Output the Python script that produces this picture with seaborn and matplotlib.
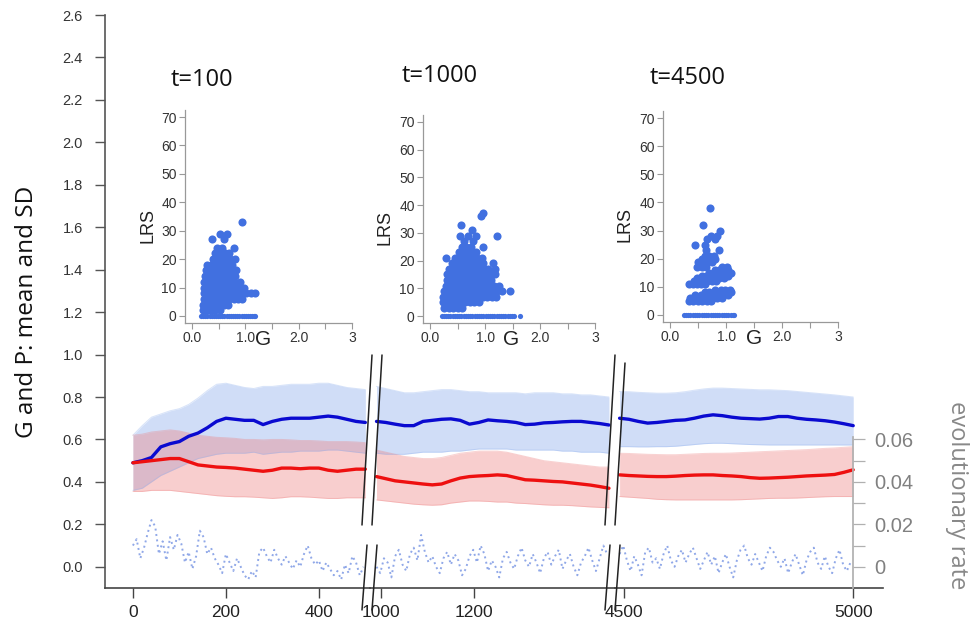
import numpy as np
import pandas as pd
import matplotlib
matplotlib.use("Agg")
import matplotlib.pyplot as plt
from matplotlib.lines import Line2D
import seaborn as sns

# ---------------- data ----------------
# time grids (generations) of the three shown windows
t_seg1 = np.arange(0, 501, 20)
t_seg2 = np.arange(990, 1491, 20)
t_seg3 = np.linspace(4490, 5000, 26)

# G (blue): mean and mean +/- SD band ; P (red): mean and band
g_mean_1 = [.49, .50, .515, .565, .58, .59, .615, .63, .655, .685, .70, .695, .69, .69, .67, .685, .695, .70, .70, .70, .705, .71, .705, .695, .685, .68]
g_hi_1 = [.62, .665, .705, .72, .735, .745, .765, .795, .83, .86, .865, .855, .845, .84, .85, .85, .855, .86, .86, .86, .865, .865, .855, .845, .84, .835]
g_lo_1 = [.36, .37, .40, .43, .45, .47, .49, .51, .52, .53, .535, .535, .535, .54, .53, .535, .54, .54, .545, .545, .545, .55, .55, .545, .54, .535]
p_mean_1 = [.49, .495, .50, .505, .51, .51, .495, .48, .475, .47, .468, .465, .46, .455, .45, .455, .465, .465, .462, .465, .465, .455, .45, .455, .46, .46]
p_hi_1 = [.62, .625, .635, .64, .645, .64, .63, .62, .615, .61, .608, .605, .60, .60, .598, .60, .60, .598, .595, .595, .593, .59, .59, .59, .588, .585]
p_lo_1 = [.355, .355, .36, .36, .36, .355, .35, .345, .34, .335, .332, .33, .33, .328, .325, .322, .325, .33, .33, .328, .325, .322, .322, .325, .325, .325]

g_mean_2 = [.685, .68, .672, .665, .665, .685, .69, .695, .697, .69, .672, .68, .692, .688, .685, .68, .67, .672, .678, .68, .683, .685, .685, .68, .675, .668]
g_hi_2 = [.85, .84, .83, .82, .82, .825, .83, .835, .835, .83, .825, .825, .82, .82, .82, .82, .815, .82, .82, .82, .815, .815, .81, .81, .805, .80]
g_lo_2 = [.535, .53, .53, .53, .535, .54, .54, .54, .545, .545, .55, .555, .555, .555, .555, .55, .55, .55, .55, .55, .545, .545, .54, .54, .54, .535]
p_mean_2 = [.425, .415, .405, .40, .395, .39, .386, .39, .405, .418, .425, .428, .43, .433, .43, .42, .41, .408, .405, .402, .40, .395, .39, .385, .378, .37]
p_hi_2 = [.55, .54, .53, .52, .515, .51, .51, .515, .525, .535, .54, .545, .545, .545, .54, .53, .52, .51, .50, .495, .49, .485, .48, .475, .47, .47]
p_lo_2 = [.315, .31, .305, .30, .295, .292, .29, .292, .30, .305, .31, .31, .308, .305, .305, .30, .298, .295, .292, .29, .29, .288, .285, .282, .28, .278]

g_mean_3 = [.70, .695, .685, .677, .68, .685, .69, .692, .70, .71, .716, .712, .705, .70, .698, .696, .70, .708, .708, .70, .695, .692, .688, .682, .674, .665]
g_hi_3 = [.826, .825, .822, .82, .818, .818, .82, .825, .832, .838, .842, .842, .84, .838, .836, .834, .834, .832, .83, .826, .822, .818, .814, .81, .805, .80]
g_lo_3 = [.566, .566, .565, .565, .566, .566, .568, .572, .576, .58, .582, .582, .58, .578, .576, .575, .574, .574, .574, .574, .574, .574, .574, .574, .574, .574]
p_mean_3 = [.433, .43, .428, .426, .425, .425, .427, .43, .432, .433, .433, .43, .428, .425, .42, .417, .418, .42, .422, .425, .428, .43, .432, .435, .445, .457]
p_hi_3 = [.535, .534, .532, .53, .529, .528, .528, .53, .532, .534, .535, .535, .536, .538, .54, .542, .544, .546, .548, .55, .552, .555, .558, .56, .563, .566]
p_lo_3 = [.331, .328, .325, .322, .318, .316, .315, .315, .315, .315, .315, .315, .315, .316, .318, .32, .322, .323, .323, .324, .326, .328, .33, .331, .331, .331]

# evolutionary rate (right axis)
t_rate_1 = np.arange(0, 497, 8)
rate_1 = [.010, .013, .004, .009, .016, .022, .019, .006, .012, .003,
          .014, .008, .015, .011, .002, .007, -.001, .005, .017, .014,
          .006, .009, .004, .001, -.003, .006, .002, -.002, .004, .000,
          -.004, -.006, -.002, -.005, .007, .009, .005, .002, .008, .004,
          .001, .005, .002, -.001, .003, .000, .006, .010, .004, .001,
          .003, -.002, .002, -.001, -.004, -.002, -.006, .001, -.003, .005,
          .002, -.004, .000]
t_rate_2 = np.arange(990, 1487, 8)
rate_2 = [.000, -.003, .004, .002, -.005, .005, .008, .001, -.002, .006,
          .009, .003, .015, .007, .002, .005, .000, -.003, .004, .007,
          .001, .006, .003, -.004, -.001, .005, .008, .002, .010, .006,
          -.002, .003, .000, -.005, .004, .007, .002, -.001, .005, .009,
          .003, .000, .006, .002, -.003, .004, .007, .001, .005, .008,
          -.001, .003, .006, .000, -.004, .002, .005, .009, .003, -.002,
          .004, .010, .006]
t_rate_3 = np.arange(4490, 5000, 8)
rate_3 = [.006, .010, .003, -.002, .005, .001, -.004, .007, .009, .002,
          .004, -.001, .006, .010, .003, .000, .005, .008, .002, .006,
          .009, .004, -.001, .003, .007, .001, .005, -.003, .002, .006,
          .000, -.005, .003, .008, .010, .004, .001, .006, .002, -.002,
          .005, .009, .007, .003, .000, .004, -.003, .002, .006, .001,
          -.004, .003, .007, .009, .002, -.001, .005, .000, -.003, .004,
          .008, .001, -.002, .002]

x_ticks_1 = [0, 200, 400]
x_ticks_2 = [1000, 1200]
x_ticks_3 = [4500, 5000]
y_ticks_main = [0.0, 0.2, 0.4, 0.6, 0.8, 1.0, 1.2, 1.4, 1.6, 1.8, 2.0, 2.2, 2.4, 2.6]
rate_ticks = [0, 0.02, 0.04, 0.06]
rate_tick_labels = ["0", "0.02", "0.04", "0.06"]

# inset scatter clouds: rows of (LRS, [G values])
cloud_t100 = [
    (0, [0.17, 0.21, 0.25, 0.29, 0.33, 0.37, 0.41, 0.45, 0.49, 0.53, 0.57, 0.61, 0.65, 0.69, 0.73, 0.77, 0.81, 0.85, 0.89, 0.93, 0.97, 1.01, 1.05, 1.09, 1.13, 1.17, 1.19]),
    (2, [0.20, 0.28, 0.36, 0.44, 0.52]),
    (4, [0.20, 0.28, 0.36, 0.44, 0.52, 0.60, 0.68]),
    (6, [0.22, 0.30, 0.38, 0.46, 0.54, 0.62, 0.70, 0.78, 0.86, 0.94]),
    (8, [0.22, 0.30, 0.38, 0.46, 0.54, 0.62, 0.70, 0.78, 0.86, 0.94, 1.02, 1.10, 1.18]),
    (10, [0.22, 0.30, 0.38, 0.46, 0.54, 0.62, 0.70, 0.78, 0.86, 0.98]),
    (12, [0.22, 0.30, 0.38, 0.46, 0.54, 0.62, 0.70, 0.78, 0.90]),
    (14, [0.24, 0.32, 0.40, 0.48, 0.56, 0.64, 0.72, 0.80]),
    (16, [0.26, 0.34, 0.42, 0.50, 0.58, 0.66, 0.74, 0.82]),
    (18, [0.28, 0.36, 0.44, 0.52, 0.60, 0.68, 0.76]),
    (20, [0.40, 0.48, 0.56, 0.64, 0.72, 0.80]),
    (22, [0.44, 0.52, 0.62, 0.70]),
    (24, [0.47, 0.57, 0.78]),
    (27, [0.38, 0.60]),
    (29, [0.52, 0.66]),
    (33, [0.94]),
]
cloud_t1000 = [
    (0, [0.21, 0.25, 0.29, 0.33, 0.37, 0.41, 0.45, 0.49, 0.53, 0.57, 0.61, 0.65, 0.69, 0.73, 0.77, 0.81, 0.85, 0.89, 0.93, 0.97, 1.01, 1.05, 1.09, 1.13, 1.17, 1.21, 1.25, 1.29, 1.33, 1.37, 1.41, 1.45, 1.49, 1.52, 1.64]),
    (3, [0.26, 0.34, 0.42, 0.50, 0.58]),
    (5, [0.24, 0.32, 0.40, 0.48, 0.56, 0.64, 0.72, 0.80, 0.88]),
    (7, [0.24, 0.32, 0.40, 0.48, 0.56, 0.64, 0.72, 0.80, 0.88, 0.96, 1.04, 1.12, 1.20]),
    (9, [0.26, 0.34, 0.42, 0.50, 0.58, 0.66, 0.74, 0.82, 0.90, 0.98, 1.06, 1.14, 1.22, 1.30, 1.45]),
    (11, [0.28, 0.36, 0.44, 0.52, 0.60, 0.68, 0.76, 0.84, 0.92, 1.00, 1.08, 1.16, 1.26]),
    (13, [0.30, 0.38, 0.46, 0.54, 0.62, 0.70, 0.78, 0.86, 0.94, 1.02, 1.10]),
    (15, [0.30, 0.38, 0.46, 0.54, 0.62, 0.70, 0.78, 0.86, 0.94, 1.02, 1.10, 1.18]),
    (17, [0.34, 0.42, 0.50, 0.58, 0.66, 0.74, 0.82, 0.90, 0.98, 1.06, 1.18]),
    (19, [0.40, 0.48, 0.56, 0.64, 0.72, 0.80, 0.88, 0.96, 1.14]),
    (21, [0.28, 0.46, 0.54, 0.62, 0.70, 0.78, 0.86, 0.94]),
    (23, [0.52, 0.60, 0.68, 0.76, 0.84]),
    (25, [0.58, 0.66, 0.74, 0.96]),
    (27, [0.62, 0.78]),
    (29, [0.55, 0.68, 0.84, 1.22]),
    (31, [0.76]),
    (33, [0.56]),
    (36, [0.93]),
    (37, [0.97]),
]
cloud_t4500 = [
    (0, [0.24, 0.28, 0.32, 0.36, 0.40, 0.44, 0.48, 0.52, 0.56, 0.60, 0.64, 0.68, 0.72, 0.76, 0.80, 0.84, 0.88, 0.92, 0.96, 1.00, 1.04, 1.08, 1.12, 1.14]),
    (5, [0.33, 0.41, 0.49, 0.57, 0.65, 0.73]),
    (6, [0.36, 0.44, 0.52, 0.60, 0.68, 0.76, 0.84, 0.92]),
    (7, [0.45, 0.55, 0.65, 0.75, 0.85, 0.95, 1.03]),
    (8, [0.62, 0.70, 0.78, 0.86, 0.94, 1.02, 1.08]),
    (9, [0.80, 0.90, 0.98, 1.06]),
    (11, [0.33, 0.41, 0.47, 0.55, 0.63]),
    (12, [0.42, 0.50, 0.58, 0.66, 0.74, 0.82]),
    (13, [0.48, 0.56, 0.64, 0.72, 0.80, 0.88, 0.96]),
    (14, [0.56, 0.64, 0.72, 0.80, 0.88, 0.96, 1.04]),
    (15, [0.70, 0.78, 0.86, 0.94, 1.02, 1.08]),
    (16, [0.80, 0.88, 0.96, 1.04]),
    (17, [0.48, 0.56, 0.64, 0.92, 1.02]),
    (19, [0.50, 0.58, 0.66, 0.74]),
    (20, [0.56, 0.64, 0.72, 0.80]),
    (21, [0.62, 0.70, 0.78]),
    (23, [0.64, 0.88]),
    (25, [0.44, 0.62]),
    (27, [0.65, 0.80]),
    (28, [0.72, 0.84]),
    (30, [0.89]),
    (32, [0.59]),
    (38, [0.71]),
]
inset_titles = ["t=100", "t=1000", "t=4500"]
inset_x_ticks = [0, 1, 2, 3]
inset_x_labels = ["0.0", "1.0", "2.0", "3"]
inset_y_ticks = [0, 10, 20, 30, 40, 50, 60, 70]

# ---------------- styling ----------------
W, H = 978, 637


def box(x0, y0, x1, y1):
    return [x0 / W, 1 - y1 / H, (x1 - x0) / W, (y1 - y0) / H]


def fx(x):
    return x / W


def fy(y):
    return 1 - y / H


sns.set_theme(style="ticks")
plt.rcParams["font.family"] = ["Liberation Sans", "DejaVu Sans"]

BLUE = "#0a0ad0"
RED = "#ee1010"
BLUE_FILL = "#8fb0ee"
RED_FILL = "#ee8080"
RATE = "#90a8e8"
SCAT = "#4170e0"

fig = plt.figure(figsize=(W / 100, H / 100), dpi=100)

segments = [
    dict(b=box(105, 15, 370, 588), xlim=(-60, 510), xt=x_ticks_1, t=t_seg1,
         g=g_mean_1, gh=g_hi_1, gl=g_lo_1, p=p_mean_1, ph=p_hi_1, pl=p_lo_1,
         tr=t_rate_1, r=rate_1),
    dict(b=box(370, 15, 615, 588), xlim=(976, 1503), xt=x_ticks_2, t=t_seg2,
         g=g_mean_2, gh=g_hi_2, gl=g_lo_2, p=p_mean_2, ph=p_hi_2, pl=p_lo_2,
         tr=t_rate_2, r=rate_2),
    dict(b=box(615, 15, 883, 588), xlim=(4480, 5065), xt=x_ticks_3, t=t_seg3,
         g=g_mean_3, gh=g_hi_3, gl=g_lo_3, p=p_mean_3, ph=p_hi_3, pl=p_lo_3,
         tr=t_rate_3, r=rate_3),
]

for i, s in enumerate(segments):
    ax = fig.add_axes(s["b"])
    ax.set_facecolor("none")
    ax.fill_between(s["t"], s["gl"], s["gh"], color=BLUE_FILL, alpha=0.42, lw=0)
    ax.fill_between(s["t"], s["pl"], s["ph"], color=RED_FILL, alpha=0.38, lw=0)
    for arr, c in [(s["gh"], BLUE_FILL), (s["gl"], BLUE_FILL), (s["ph"], RED_FILL), (s["pl"], RED_FILL)]:
        ax.plot(s["t"], arr, color=c, lw=0.7, alpha=0.35)
    sns.lineplot(x=s["t"], y=s["g"], ax=ax, color=BLUE, linewidth=2.4)
    sns.lineplot(x=s["t"], y=s["p"], ax=ax, color=RED, linewidth=2.4)
    ax.set_xlim(*s["xlim"])
    ax.set_ylim(-0.1, 2.6)
    ax.set_xticks(s["xt"])
    ax.set_xticklabels([str(v) for v in s["xt"]])
    ax.tick_params(axis="x", length=7, width=1.0, color="#444", pad=5,
                   labelsize=12.5, labelcolor="#222")
    for sp in ["top", "right"]:
        ax.spines[sp].set_visible(False)
    ax.spines["bottom"].set_color("#444")
    ax.spines["bottom"].set_linewidth(1.2)
    if i == 0:
        ax.set_yticks(y_ticks_main)
        ax.set_yticklabels([f"{v:.1f}" for v in y_ticks_main])
        ax.tick_params(axis="y", length=7, width=1.0, color="#555", pad=9,
                       labelsize=10.5, labelcolor="#333")
        ax.spines["left"].set_color("#555")
        ax.spines["left"].set_linewidth(1.2)
    else:
        ax.spines["left"].set_visible(False)
        ax.set_yticks([])

    axr = ax.twinx()
    axr.set_facecolor("none")
    sns.lineplot(x=s["tr"], y=s["r"], ax=axr, color=RATE, linewidth=1.4,
                 linestyle=(0, (1.0, 1.8)))
    axr.set_ylim(-0.01, 0.26)
    axr.set_xlim(*s["xlim"])
    for sp in ["top", "left", "bottom", "right"]:
        axr.spines[sp].set_visible(False)
    if i == 2:
        spr = axr.spines["right"]
        spr.set_visible(True)
        spr.set_position(("data", 5000))
        spr.set_bounds(-0.01, 0.061)
        spr.set_color("#b0b0b0")
        axr.set_yticks(rate_ticks)
        axr.set_yticklabels(rate_tick_labels)
        axr.set_yticks([0.01, 0.03, 0.05], minor=True)
        axr.tick_params(axis="y", which="both", length=8.5, width=0.9, color="#b0b0b0",
                        labelcolor="#808080", labelsize=14.5, pad=7)
    else:
        axr.set_yticks([])
    axr.set_ylabel("")

# axis titles
fig.text(fx(27), fy(312), "G and P: mean and SD", rotation=90, ha="center", va="center",
         fontsize=17.5, family="Open Sans", color="#111")
fig.text(fx(957), fy(495), "evolutionary rate", rotation=270, ha="center", va="center",
         fontsize=17, family="Open Sans", color="#888")

# axis break marks
break_lines = [
    ((372, 355), (362, 525)), ((382, 355), (372, 525)),
    ((367, 545), (362, 610)), ((377, 545), (372, 610)),
    ((615, 355), (605, 525)), ((625, 363), (615, 525)),
    ((610, 545), (605, 610)), ((620, 545), (615, 610)),
]
for (x0, y0), (x1, y1) in break_lines:
    fig.add_artist(Line2D([fx(x0), fx(x1)], [fy(y0), fy(y1)], transform=fig.transFigure,
                          color="#222", lw=1.1))

# insets
insets = [
    dict(b=box(185, 110, 352, 323), cloud=cloud_t100, title=inset_titles[0], tpos=(202, 80), gx=0.47),
    dict(b=box(423, 115, 595, 323), cloud=cloud_t1000, title=inset_titles[1], tpos=(440, 76), gx=0.51),
    dict(b=box(663, 111, 838, 322), cloud=cloud_t4500, title=inset_titles[2], tpos=(688, 78), gx=0.52),
]
for ins in insets:
    df = pd.DataFrame([(g, l) for l, gs in ins["cloud"] for g in gs], columns=["G", "LRS"])
    axi = fig.add_axes(ins["b"])
    axi.set_facecolor("none")
    sns.scatterplot(data=df[df["LRS"] > 0], x="G", y="LRS", ax=axi, color=SCAT, s=34, linewidth=0)
    sns.scatterplot(data=df[df["LRS"] == 0], x="G", y="LRS", ax=axi, color=SCAT, s=14, linewidth=0)
    axi.set_xlim(-0.13, 3.0)
    axi.set_ylim(-2.5, 72.5)
    axi.set_xticks(inset_x_ticks)
    axi.set_xticklabels(inset_x_labels)
    axi.set_xticks([0.5, 1.5, 2.5], minor=True)
    axi.set_yticks(inset_y_ticks)
    axi.tick_params(axis="both", which="both", length=4, width=0.8, color="#999",
                    labelsize=10, labelcolor="#333", pad=2)
    for sp in ["top", "right"]:
        axi.spines[sp].set_visible(False)
    for sp in ["left", "bottom"]:
        axi.spines[sp].set_color("#999")
        axi.spines[sp].set_linewidth(0.9)
    axi.set_ylabel("LRS", fontsize=13, color="#222")
    axi.yaxis.set_label_coords(-0.17, 0.46)
    axi.set_xlabel("G", fontsize=15, color="#222")
    axi.xaxis.set_label_coords(ins["gx"], -0.035)
    fig.text(fx(ins["tpos"][0]), fy(ins["tpos"][1]), ins["title"], ha="center", va="center",
             fontsize=17, family="Open Sans", color="#111")

fig.savefig("out.png", dpi=100)
